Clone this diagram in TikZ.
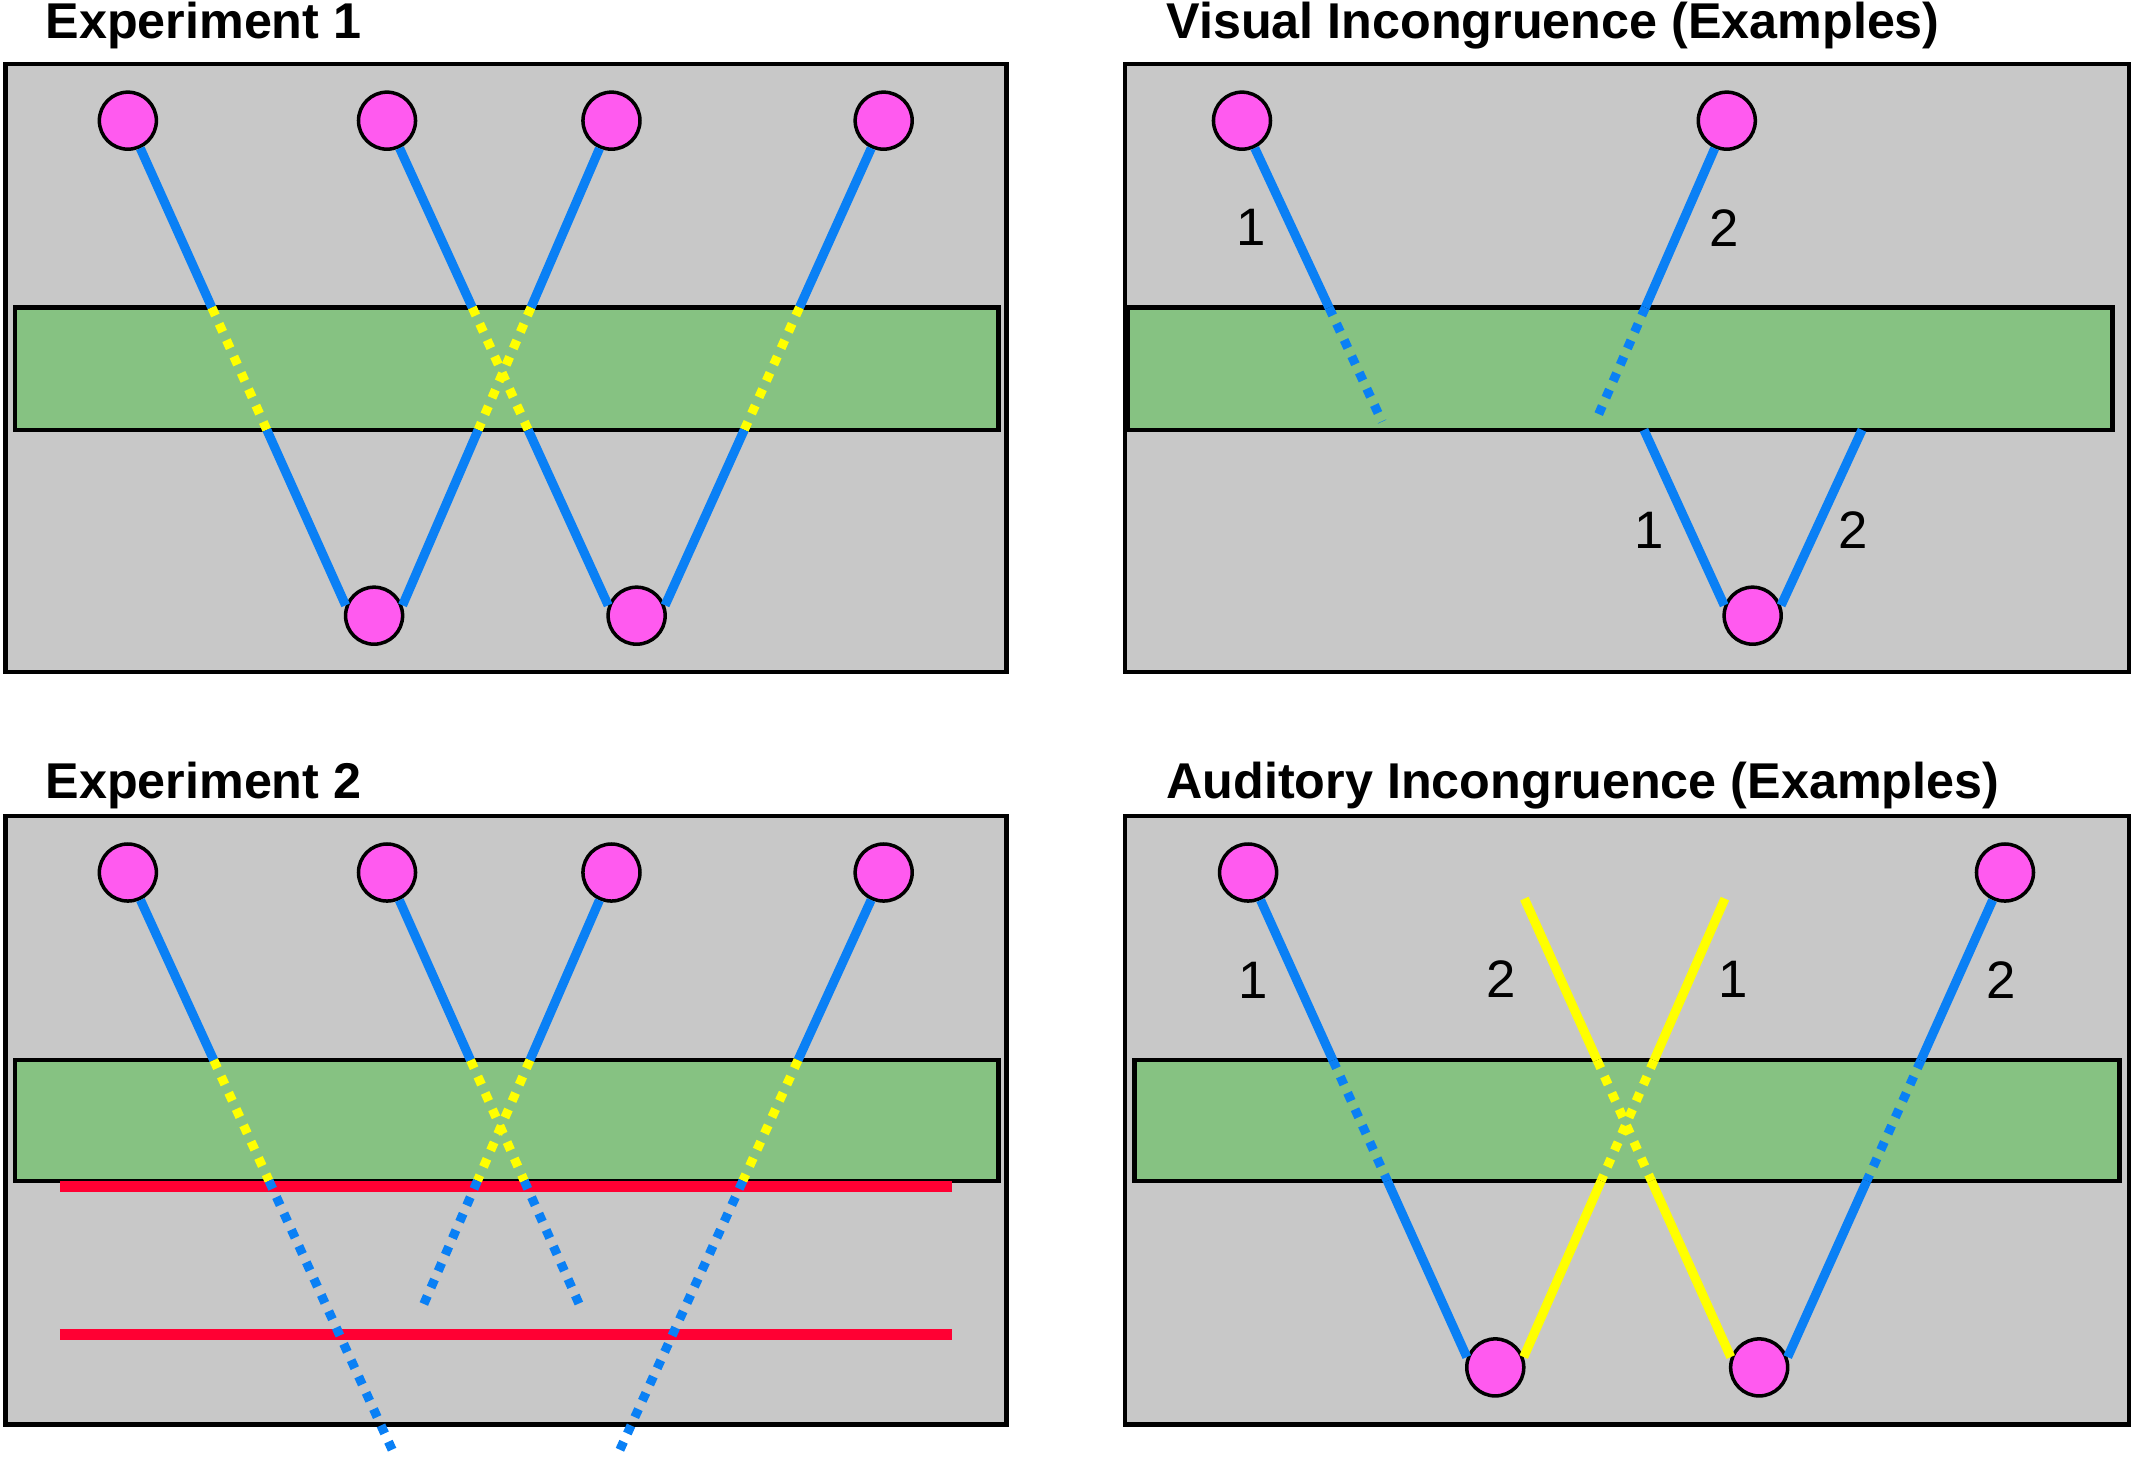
\documentclass[tikz,border=0pt]{standalone}
\usepackage{fontspec}
\setmainfont{Liberation Sans}
\usepackage{tikz}
\usetikzlibrary{positioning}

\definecolor{panelgray}{HTML}{C8C8C8}
\definecolor{bargreen}{HTML}{86C282}
\definecolor{dotpink}{HTML}{FF5AEF}
\definecolor{rayblue}{HTML}{0A80F5}
\definecolor{rayyellow}{HTML}{FFFF00}
\definecolor{wallred}{HTML}{FF0033}

\begin{document}
\begin{tikzpicture}[x=0.013603cm,y=-0.013603cm,
    panel/.style={draw,line width=1.3pt,fill=panelgray},
    bar/.style={draw,line width=1.2pt,fill=bargreen},
    ball/.style={circle,draw,line width=1pt,fill=dotpink,minimum size=5.7mm,inner sep=0pt},
    ray/.style={rayblue,line width=2.6pt},
    raydot/.style={rayblue,line width=2.6pt,dash pattern=on 2.5pt off 2.6pt},
    tone/.style={rayyellow,line width=2.6pt},
    tonedot/.style={rayyellow,line width=2.6pt,dash pattern=on 2.5pt off 2.6pt},
    wall/.style={wallred,line width=3.1pt},
    title/.style={anchor=base west,inner sep=0pt,font=\fontsize{14.3}{16}\selectfont\bfseries},
    num/.style={inner sep=0pt,text=black,font=\fontsize{15}{15}\selectfont}]
    \fill[white] (0,0) rectangle (1568,1078);
    \useasboundingbox (0,0) rectangle (1568,1078);

    % Experiment 1
    \node [title] (head1) at (33,28.5) {Experiment 1};
    \draw [panel] (4,47) rectangle (740,494);
    \path (11,226) coordinate (bar1nw) (734,226) coordinate (bar1ne)
          (11,316) coordinate (bar1sw) (734,316) coordinate (bar1se);
    \draw [bar] (bar1nw) rectangle (bar1se);
    \foreach \x/\n in {94/1,284.5/2,449.5/3,649.6/4}
        \node [ball] (e1top\n) at (\x,88.7) {};
    \node [ball] (e1bot1) at (275,452.6) {};
    \node [ball] (e1bot2) at (468,452.6) {};
    \foreach \i/\b in {1/e1bot1.160,2/e1bot2.160,3/e1bot1.20,4/e1bot2.20} {
        \coordinate (w) at (\b);
        \coordinate (u) at (intersection of e1top\i--w and bar1nw--bar1ne);
        \coordinate (v) at (intersection of e1top\i--w and bar1sw--bar1se);
        \draw [ray] (e1top\i) -- (u);
        \draw [tonedot] (u) -- (v);
        \draw [ray] (v) -- (w);
    }

    % Visual incongruence
    \node [title] (head2) at (857,28.5) {Visual Incongruence (Examples)};
    \draw [panel] (827,47) rectangle (1565,494);
    \path (829,226) coordinate (bar2nw) (1553,226) coordinate (bar2ne)
          (829,316) coordinate (bar2sw) (1553,316) coordinate (bar2se);
    \draw [bar] (bar2nw) rectangle (bar2se);
    \node [ball] (vis1) at (913,88.7) {};
    \node [ball] (vis2) at (1269.4,88.7) {};
    \node [ball] (vis3) at (1288.4,452.6) {};
    \coordinate (visend1) at (1016,310);
    \coordinate (visend2) at (1172.8,310);
    \coordinate (vin1) at (1208.5,316);
    \coordinate (vin2) at (1368.8,316);
    \coordinate (u) at (intersection of vis1--visend1 and bar2nw--bar2ne);
    \draw [ray] (vis1) -- node [num,left=6pt] {1} (u);
    \draw [raydot] (u) -- (visend1);
    \coordinate (u) at (intersection of vis2--visend2 and bar2nw--bar2ne);
    \draw [ray] (vis2) -- node [num,right=7pt] {2} (u);
    \draw [raydot] (u) -- (visend2);
    \draw [ray] (vin1) -- node [num,left=6pt,pos=0.57] {1} (vis3.160);
    \draw [ray] (vin2) -- node [num,right=5pt,pos=0.57] {2} (vis3.20);

    % Experiment 2
    \node [title] (head3) at (33,587) {Experiment 2};
    \draw [panel] (4,600) rectangle (740,1047);
    \path (11,779.3) coordinate (bar3nw) (734,779.3) coordinate (bar3ne)
          (11,868) coordinate (bar3sw) (734,868) coordinate (bar3se);
    \draw [bar] (bar3nw) rectangle (bar3se);
    \draw [wall] (44,872.4) -- (700,872.4);
    \draw [wall] (44,981) -- (700,981);
    \foreach \x/\n in {94/1,284.5/2,449.5/3,649.6/4}
        \node [ball] (e2top\n) at (\x,641.4) {};
    \coordinate (e2end1) at (289,1067.3);
    \coordinate (e2end2) at (426.7,960.8);
    \coordinate (e2end3) at (310.6,960.8);
    \coordinate (e2end4) at (455,1067.3);
    \foreach \i in {1,...,4} {
        \coordinate (w) at (e2end\i);
        \coordinate (u) at (intersection of e2top\i--w and bar3nw--bar3ne);
        \coordinate (v) at (intersection of e2top\i--w and bar3sw--bar3se);
        \draw [ray] (e2top\i) -- (u);
        \draw [tonedot] (u) -- (v);
        \draw [raydot] (v) -- (w);
    }

    % Auditory incongruence
    \node [title] (head4) at (857,587) {Auditory Incongruence (Examples)};
    \draw [panel] (827,600) rectangle (1565,1047);
    \path (834,779.3) coordinate (bar4nw) (1558,779.3) coordinate (bar4ne)
          (834,868) coordinate (bar4sw) (1558,868) coordinate (bar4se);
    \draw [bar] (bar4nw) rectangle (bar4se);
    \node [ball] (aud1) at (917.5,641.4) {};
    \node [ball] (aud2) at (1473.9,641.4) {};
    \node [ball] (aud3) at (1099.2,1005.2) {};
    \node [ball] (aud4) at (1293.2,1005.2) {};
    \coordinate (tone1) at (1120.6,660.6);
    \coordinate (tone2) at (1268,660.6);

    \coordinate (u) at (intersection of aud1--aud3.160 and bar4nw--bar4ne);
    \coordinate (v) at (intersection of aud1--aud3.160 and bar4sw--bar4se);
    \draw [ray] (aud1) -- node [num,left=7pt] {1} (u);
    \draw [raydot] (u) -- (v);
    \draw [ray] (v) -- (aud3.160);

    \coordinate (u) at (intersection of tone1--aud4.160 and bar4nw--bar4ne);
    \coordinate (v) at (intersection of tone1--aud4.160 and bar4sw--bar4se);
    \draw [tone] (tone1) -- node [num,left=11.5pt] {2} (u);
    \draw [tonedot] (u) -- (v);
    \draw [tone] (v) -- (aud4.160);

    \coordinate (u) at (intersection of tone2--aud3.20 and bar4nw--bar4ne);
    \coordinate (v) at (intersection of tone2--aud3.20 and bar4sw--bar4se);
    \draw [tone] (tone2) -- node [num,right=7pt] {1} (u);
    \draw [tonedot] (u) -- (v);
    \draw [tone] (v) -- (aud3.20);

    \coordinate (u) at (intersection of aud2--aud4.20 and bar4nw--bar4ne);
    \coordinate (v) at (intersection of aud2--aud4.20 and bar4sw--bar4se);
    \draw [ray] (aud2) -- node [num,right=7pt] {2} (u);
    \draw [raydot] (u) -- (v);
    \draw [ray] (v) -- (aud4.20);
\end{tikzpicture}
\end{document}
